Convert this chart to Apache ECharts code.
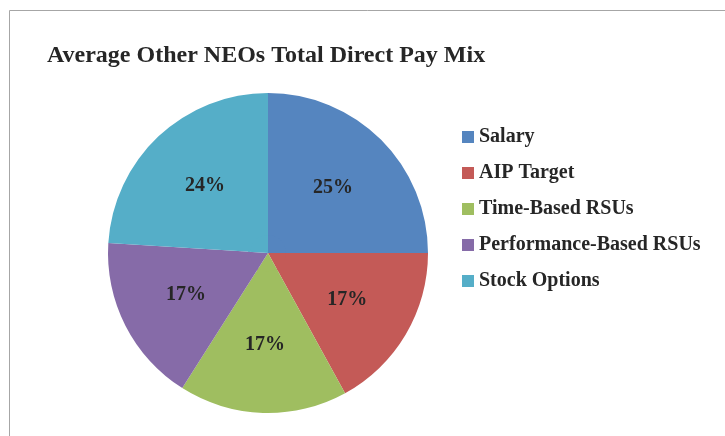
<!DOCTYPE html>
<html>
<head>
    <meta charset="utf-8">
    <title>Average Other NEOs Total Direct Pay Mix</title>
    <script src="https://cdn.jsdelivr.net/npm/echarts@6/dist/echarts.min.js"></script>
    <style>
        html, body { margin: 0; padding: 0; background: #fff; }
    </style>
</head>
<body>
<div id="main" style="width: 725px;height:436px;"></div>
<script type="text/javascript">
    // 数据
    var categories = ['Salary', 'AIP Target', 'Time-Based RSUs', 'Performance-Based RSUs', 'Stock Options'];
    var values = [25, 17, 17, 17, 24];
    var colors = ['#5585bf', '#c45a57', '#9fbe60', '#866ba8', '#55aec8'];

    var pieData = [];
    for (var i = 0; i < categories.length; i++) {
        pieData.push({value: values[i], name: categories[i], itemStyle: {color: colors[i]}});
    }

    var myChart = echarts.init(document.getElementById('main'));
    var serif = '"Liberation Serif", "DejaVu Serif", serif';

    var option = {
        backgroundColor: '#fff',
        animation: false,
        title: {
            text: 'Average Other NEOs Total Direct Pay Mix',
            left: 42,
            top: 39,
            textStyle: {
                fontFamily: serif,
                fontSize: 24,
                fontWeight: 'bold',
                color: '#262626'
            }
        },
        legend: {
            orient: 'vertical',
            left: 457,
            top: 122,
            itemWidth: 12,
            itemHeight: 12,
            itemGap: 16,
            icon: 'rect',
            textStyle: {
                fontFamily: serif,
                fontSize: 20,
                fontWeight: 'bold',
                color: '#262626'
            },
            data: categories
        },
        graphic: [{
            type: 'rect',
            shape: {x: 9.5, y: 10.5, width: 800, height: 500},
            style: {fill: 'none', stroke: '#a6a6a6', lineWidth: 1},
            silent: true
        }],
        series: [{
            // 中心填充，保证标签位置稍微靠外
            name: 'Pay Mix Core',
            type: 'pie',
            center: [268, 253],
            radius: [0, 20],
            startAngle: 90,
            clockwise: true,
            label: {show: false},
            labelLine: {show: false},
            emphasis: {disabled: true},
            silent: true,
            data: pieData
        }, {
            name: 'Pay Mix',
            type: 'pie',
            center: [268, 253],
            radius: [18, 160],
            startAngle: 90,
            clockwise: true,
            label: {
                show: true,
                position: 'inside',
                formatter: '{c}%',
                fontFamily: serif,
                fontSize: 20,
                fontWeight: 'bold',
                color: '#262626'
            },
            labelLine: {show: false},
            itemStyle: {borderWidth: 0},
            emphasis: {disabled: true},
            data: pieData
        }]
    };
    myChart.setOption(option);
</script>
</body>
</html>
